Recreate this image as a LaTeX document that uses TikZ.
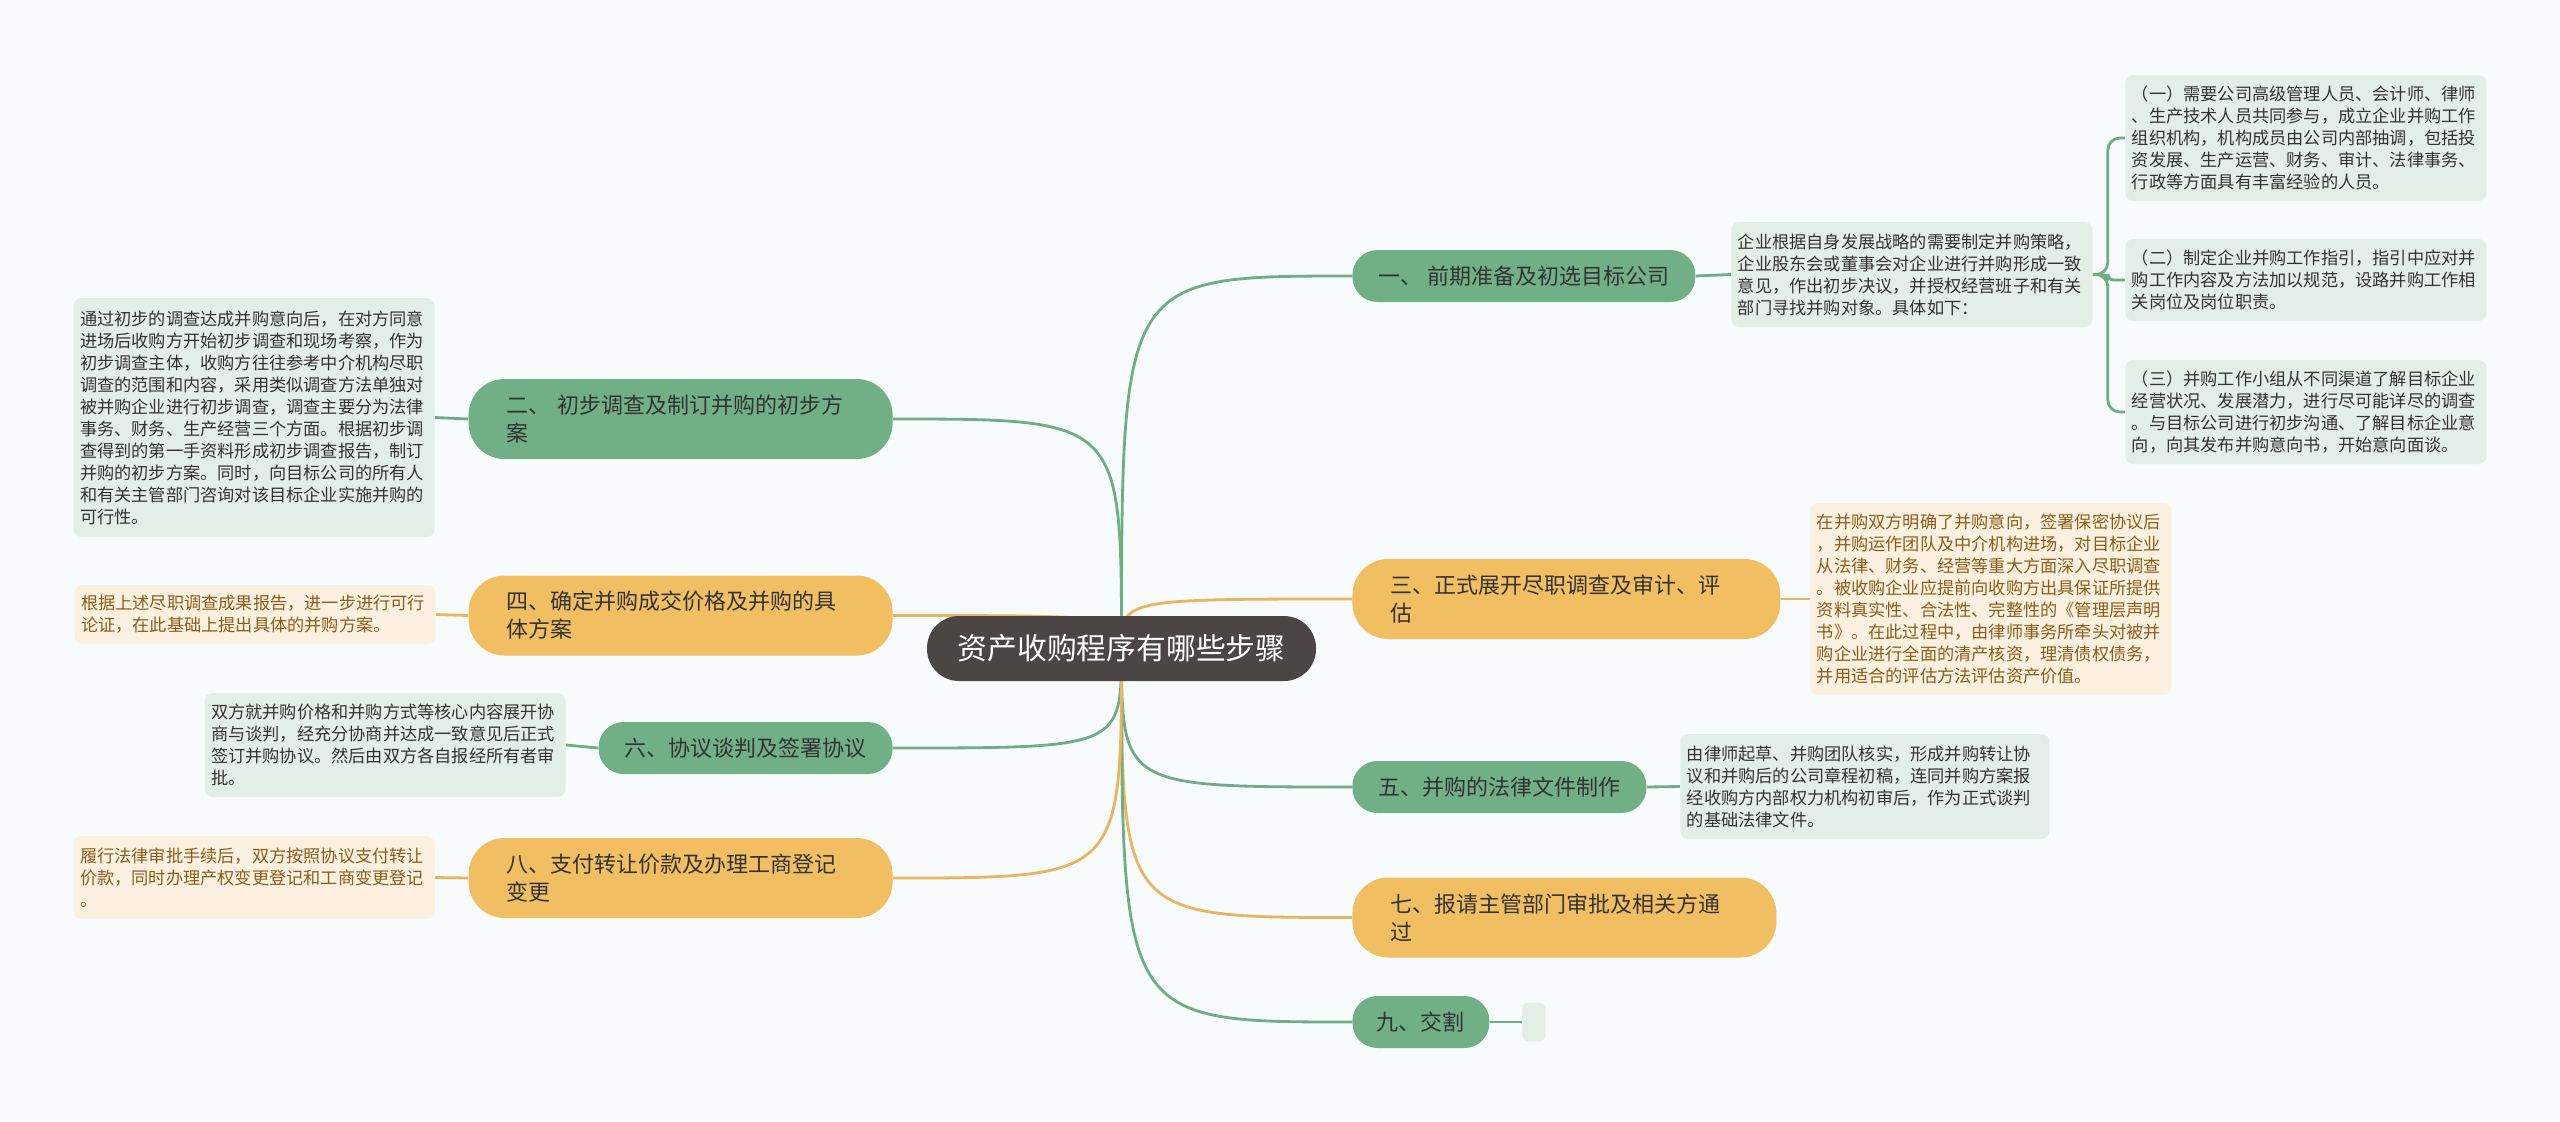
\documentclass[tikz,border=0pt]{standalone}
\usepackage{fontspec}
\setmainfont{Noto Sans CJK SC}
\usepackage{tikz}
\usetikzlibrary{positioning, backgrounds, calc}
\definecolor{pagebg}{HTML}{F7FBFB}
\definecolor{rootfill}{HTML}{4B4544}
\definecolor{leafgreen}{HTML}{71B086}
\definecolor{linegreen}{HTML}{6DAE84}
\definecolor{notegreen}{HTML}{E3EEE6}
\definecolor{leaforange}{HTML}{F2BE62}
\definecolor{lineorange}{HTML}{EBB45E}
\definecolor{noteorange}{HTML}{FCF0E0}
\definecolor{textbrown}{HTML}{8B5E1A}
\definecolor{textdark}{HTML}{333333}

\begin{document}
\begin{tikzpicture}[
    x=0.5pt, y=-0.5pt,
    root/.style={rectangle, rounded corners=16pt, fill=rootfill, text=white, minimum width=194.5pt, minimum height=32.5pt, font=\fontsize{14.9}{18}\selectfont},
    branch/.style={rectangle, rounded corners=12.5pt, minimum height=26pt, inner xsep=4pt, text=textdark, font=\fontsize{11}{14}\selectfont},
    tallbranch/.style={branch, rounded corners=18pt, minimum height=40pt, inner xsep=19pt, text width=174pt, align=left},
    gbranch/.style={fill=leafgreen},
    obranch/.style={fill=leaforange},
    note/.style={rectangle, rounded corners=4pt, text width=174pt, align=left, inner xsep=3.25pt, inner ysep=4pt, font=\fontsize{8.6}{11}\selectfont},
    gnote/.style={note, fill=notegreen, text=textdark},
    onote/.style={note, fill=noteorange, text=textbrown},
    glink/.style={draw=linegreen, line width=1.4pt},
    olink/.style={draw=lineorange, line width=1.4pt}
]
\useasboundingbox (0,0) rectangle (2560,1121);

% Root
\node[root] (root) at (1121.5,648.5) {资产收购程序有哪些步骤};

% Right branches
\node[branch, gbranch, anchor=west, minimum width=171.5pt] (b1) at (1352,276) {一、 前期准备及初选目标公司};
\node[tallbranch, obranch, anchor=west, text width=176pt] (b3) at (1352,599) {三、正式展开尽职调查及审计、评\\估};
\node[branch, gbranch, anchor=west, minimum width=147pt] (b5) at (1352,787) {五、并购的法律文件制作};
\node[tallbranch, obranch, anchor=west] (b7) at (1352,917.5) {七、报请主管部门审批及相关方通\\过};
\node[branch, gbranch, anchor=west, minimum width=68.5pt] (b9) at (1352,1022) {九、交割};

% Left branches
\node[tallbranch, gbranch, anchor=east] (b2) at (893,419) {二、 初步调查及制订并购的初步方\\案};
\node[tallbranch, obranch, anchor=east] (b4) at (893,615.5) {四、确定并购成交价格及并购的具\\体方案};
\node[branch, gbranch, anchor=east, minimum width=147pt] (b6) at (893,748) {六、协议谈判及签署协议};
\node[tallbranch, obranch, anchor=east] (b8) at (893,878) {八、支付转让价款及办理工商登记\\变更};

% Notes on the right
\node[gnote, anchor=west, minimum height=52.5pt] (d1) at (1731,274.5) {企业根据自身发展战略的需要制定并购策略，\\企业股东会或董事会对企业进行并购形成一致\\意见，作出初步决议，并授权经营班子和有关\\部门寻找并购对象。具体如下：};
\node[gnote, anchor=west, minimum height=63pt] (s1) at (2125,138) {（一）需要公司高级管理人员、会计师、律师\\、生产技术人员共同参与，成立企业并购工作\\组织机构，机构成员由公司内部抽调，包括投\\资发展、生产运营、财务、审计、法律事务、\\行政等方面具有丰富经验的人员。};
\node[gnote, anchor=west, minimum height=41pt] (s2) at (2125,280) {（二）制定企业并购工作指引，指引中应对并\\购工作内容及方法加以规范，设路并购工作相\\关岗位及岗位职责。};
\node[gnote, anchor=west, minimum height=52pt] (s3) at (2125,412) {（三）并购工作小组从不同渠道了解目标企业\\经营状况、发展潜力，进行尽可能详尽的调查\\。与目标公司进行初步沟通、了解目标企业意\\向，向其发布并购意向书，开始意向面谈。};
\node[onote, anchor=west, minimum height=96pt] (d3) at (1810,599) {在并购双方明确了并购意向，签署保密协议后\\，并购运作团队及中介机构进场，对目标企业\\从法律、财务、经营等重大方面深入尽职调查\\。被收购企业应提前向收购方出具保证所提供\\资料真实性、合法性、完整性的《管理层声明\\书》。在此过程中，由律师事务所牵头对被并\\购企业进行全面的清产核资，理清债权债务，\\并用适合的评估方法评估资产价值。};
\node[gnote, anchor=west, minimum height=52.5pt, text width=178pt] (d5) at (1680,786.5) {由律师起草、并购团队核实，形成并购转让协\\议和并购后的公司章程初稿，连同并购方案报\\经收购方内部权力机构初审后，作为正式谈判\\的基础法律文件。};
\node[rectangle, rounded corners=3pt, fill=notegreen, anchor=west, minimum width=11.5pt, minimum height=19.5pt, inner sep=0pt] (e9) at (1522,1022) {};

% Notes on the left
\node[gnote, anchor=east, minimum height=119.5pt] (d2) at (435,417.5) {通过初步的调查达成并购意向后，在对方同意\\进场后收购方开始初步调查和现场考察，作为\\初步调查主体，收购方往往参考中介机构尽职\\调查的范围和内容，采用类似调查方法单独对\\被并购企业进行初步调查，调查主要分为法律\\事务、财务、生产经营三个方面。根据初步调\\查得到的第一手资料形成初步调查报告，制订\\并购的初步方案。同时，向目标公司的所有人\\和有关主管部门咨询对该目标企业实施并购的\\可行性。};
\node[onote, anchor=east, minimum height=29.5pt] (d4) at (436,614.5) {根据上述尽职调查成果报告，进一步进行可行\\论证，在此基础上提出具体的并购方案。};
\node[gnote, anchor=east, minimum height=52pt] (d6) at (566,745) {双方就并购价格和并购方式等核心内容展开协\\商与谈判，经充分协商并达成一致意见后正式\\签订并购协议。然后由双方各自报经所有者审\\批。};
\node[onote, anchor=east, minimum height=41.5pt] (d8) at (435,877.5) {履行法律审批手续后，双方按照协议支付转让\\价款，同时办理产权变更登记和工商变更登记\\。};

% Connectors
\begin{scope}[on background layer]
\fill[pagebg] (0,0) rectangle (2560,1121);
\draw[glink] (root.center) .. controls (root.center |- b1.west) .. (b1.west);
\draw[olink] (root.center) .. controls (root.center |- b3.west) .. (b3.west);
\draw[glink] (root.center) .. controls (root.center |- b5.west) .. (b5.west);
\draw[olink] (root.center) .. controls (root.center |- b7.west) .. (b7.west);
\draw[glink] (root.center) .. controls (root.center |- b9.west) .. (b9.west);
\draw[glink] (root.center) .. controls (root.center |- b2.east) .. (b2.east);
\draw[olink] (root.center) .. controls (root.center |- b4.east) .. (b4.east);
\draw[glink] (root.center) .. controls (root.center |- b6.east) .. (b6.east);
\draw[olink] (root.center) .. controls (root.center |- b8.east) .. (b8.east);
\draw[glink] (b1.east) -- (d1.west);
\draw[glink, rounded corners=6pt] (d1.east) -- ++(15,0) |- (s1.west);
\draw[glink, rounded corners=3pt] (d1.east) -- ++(15,0) |- (s2.west);
\draw[glink, rounded corners=6pt] (d1.east) -- ++(15,0) |- (s3.west);
\draw[olink] (b3.east) -- (d3.west);
\draw[glink] (b5.east) -- (d5.west);
\draw[glink] (b9.east) -- (e9.west);
\draw[glink] (b2.west) -- (d2.east);
\draw[olink] (b4.west) -- (d4.east);
\draw[glink] (b6.west) -- (d6.east);
\draw[olink] (b8.west) -- (d8.east);
\end{scope}
\end{tikzpicture}
\end{document}
